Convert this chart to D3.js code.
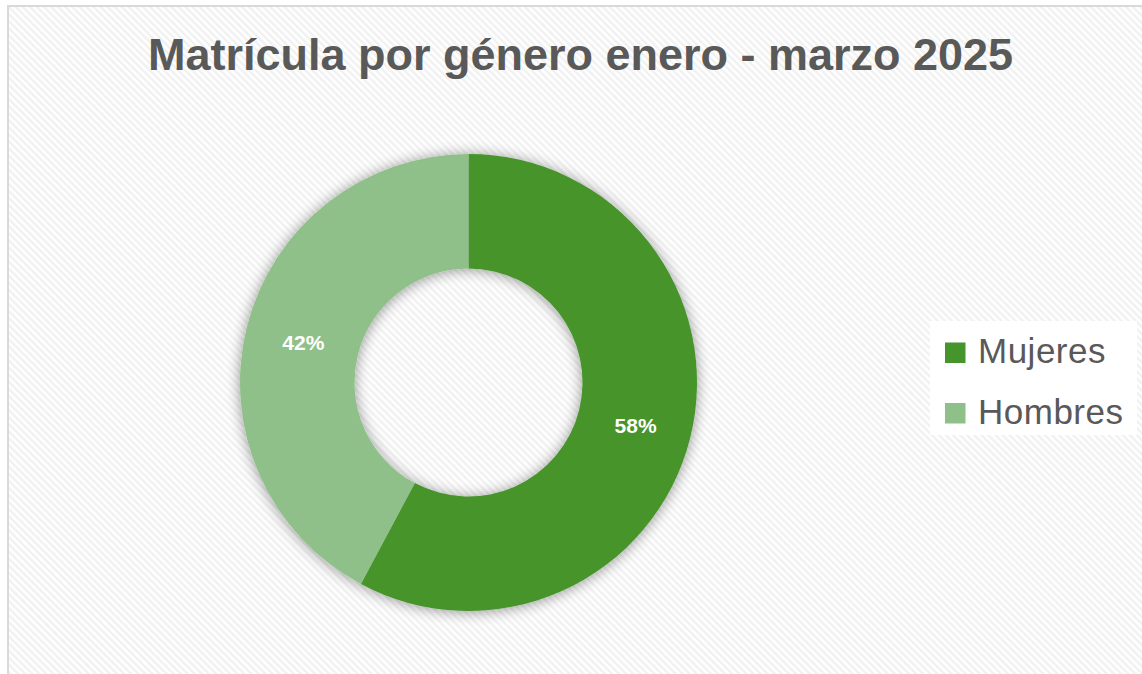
<!DOCTYPE html>
<head>
	<meta charset="utf-8">
	<title>Matrícula por género</title>
	<script src="https://d3js.org/d3.v7.min.js"></script>
	<style>
		body { margin: 0; background: #ffffff; }
	</style>
</head>
<body>
	<script type="text/javascript">
	var categories = ["Mujeres", "Hombres"];
	var values = [57.8, 42.2];
	var colors = ["#46942c", "#90c089"];
	var title = "Matrícula por género enero - marzo 2025";

	var w = 1142;
	var h = 674;
	var cx = 468.5, cy = 382.5;
	var outerR = 228.5, innerR = 114;

	var svg = d3.select("body")
		.append("svg")
		.attr("width", w)
		.attr("height", h);

	var defs = svg.append("defs");

	// light diagonal hatching like the office chart area
	var pat = defs.append("pattern")
		.attr("id", "hatch")
		.attr("patternUnits", "userSpaceOnUse")
		.attr("width", 5)
		.attr("height", 5)
		.attr("patternTransform", "rotate(-45)");
	pat.append("rect").attr("width", 5).attr("height", 5).attr("fill", "#ffffff");
	pat.append("rect").attr("width", 2.5).attr("height", 5).attr("fill", "#f1f1f1");

	var shadow = defs.append("filter")
		.attr("id", "shadow")
		.attr("x", "-20%").attr("y", "-20%")
		.attr("width", "140%").attr("height", "140%");
	shadow.append("feGaussianBlur").attr("in", "SourceAlpha").attr("stdDeviation", 7).attr("result", "blur");
	shadow.append("feOffset").attr("in", "blur").attr("dx", 0).attr("dy", 1).attr("result", "off");
	shadow.append("feComponentTransfer").attr("in", "off").attr("result", "soft")
		.append("feFuncA").attr("type", "linear").attr("slope", 0.42);
	var merge = shadow.append("feMerge");
	merge.append("feMergeNode").attr("in", "soft");
	merge.append("feMergeNode").attr("in", "SourceGraphic");

	// chart area
	svg.append("rect")
		.attr("x", 8)
		.attr("y", 6)
		.attr("width", w + 10)
		.attr("height", h + 10)
		.attr("fill", "url(#hatch)")
		.attr("stroke", "#d9d9d9")
		.attr("stroke-width", 2);

	// title, fitted to the width seen in the picture
	var t = svg.append("text")
		.text(title)
		.attr("x", 580.5)
		.attr("y", 70)
		.attr("text-anchor", "middle")
		.attr("font-family", "'Liberation Sans', Arial, sans-serif")
		.attr("font-weight", "bold")
		.attr("font-size", "44px")
		.attr("fill", "#595959");
	var tw = t.node().getComputedTextLength();
	t.attr("font-size", (44 * 865 / tw).toFixed(2) + "px");

	var pie = d3.pie().sort(null).value(function(d){ return d; });
	var arc = d3.arc().innerRadius(innerR).outerRadius(outerR);
	var arcs = pie(values);

	var g = svg.append("g")
		.attr("transform", "translate(" + cx + "," + cy + ")");

	g.append("g")
		.attr("filter", "url(#shadow)")
		.selectAll("path")
		.data(arcs)
		.enter()
		.append("path")
		.attr("d", arc)
		.attr("fill", function(d, i){ return colors[i]; });

	var total = d3.sum(values);
	g.selectAll("text.pct")
		.data(arcs)
		.enter()
		.append("text")
		.attr("class", "pct")
		.text(function(d){ return Math.round(d.data / total * 100) + "%"; })
		.attr("transform", function(d){
			var c = arc.centroid(d);
			return "translate(" + (c[0] + 1) + "," + (c[1] + 1) + ")";
		})
		.attr("text-anchor", "middle")
		.attr("dy", "0.36em")
		.attr("font-family", "'Liberation Sans', Arial, sans-serif")
		.attr("font-weight", "bold")
		.attr("font-size", "21px")
		.attr("fill", "#ffffff");

	// legend
	var lg = svg.append("g");
	lg.append("rect")
		.attr("x", 930)
		.attr("y", 321)
		.attr("width", 207)
		.attr("height", 114)
		.attr("fill", "#ffffff");

	var item = lg.selectAll("g.item")
		.data(categories)
		.enter()
		.append("g")
		.attr("class", "item")
		.attr("transform", function(d, i){ return "translate(945," + (342.5 + i * 60.5) + ")"; });
	item.append("rect")
		.attr("width", 20.5)
		.attr("height", 20.5)
		.attr("fill", function(d, i){ return colors[i]; });
	item.append("text")
		.text(function(d){ return d; })
		.attr("x", 33)
		.attr("y", 20.5)
		.attr("font-family", "'Liberation Sans', Arial, sans-serif")
		.attr("font-size", "35px")
		.attr("letter-spacing", "0.5px")
		.attr("fill", "#595959");
	</script>
</body>
